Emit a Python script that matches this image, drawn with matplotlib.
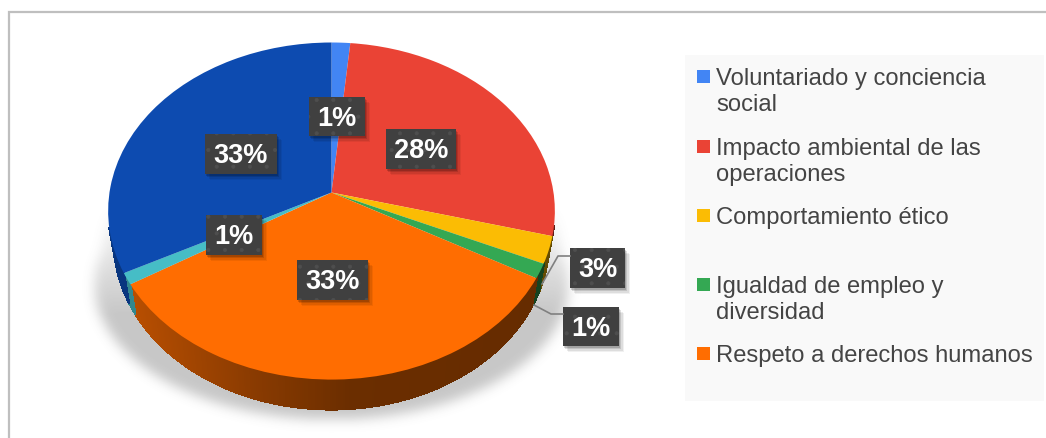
import numpy as np
import matplotlib
matplotlib.use("Agg")
import matplotlib.pyplot as plt
from matplotlib.patches import Rectangle
from matplotlib.transforms import Transform
from matplotlib.path import Path

plt.rcParams['font.family'] = ['Liberation Sans', 'DejaVu Sans']
plt.rcParams['hatch.linewidth'] = 0.5

# ---- data
categories = ["Voluntariado y conciencia\nsocial", "Impacto ambiental de las\noperaciones",
              "Comportamiento ético", "Igualdad de empleo y\ndiversidad",
              "Respeto a derechos humanos", "Otros temas", "Otros asuntos"]
values = [1.5, 27.6, 2.6, 1.4, 33.2, 1.1, 32.6]
pct_labels = ["1%", "28%", "3%", "1%", "33%", "1%", "33%"]
colors = ["#4285F4", "#EA4335", "#FBBC04", "#34A853", "#FF6D01", "#46BDC6", "#0D4BB0"]
legend_count = 5

W, H = 1046, 439
CX, CY, A, B, K = 331.5, 193.5, 222.0, 166.5, 0.11
DEPTH, SHRINK = 30.0, 0.975


class Persp(Transform):
    input_dims = output_dims = 2
    is_separable = False
    has_inverse = False

    def transform_non_affine(self, xy):
        xy = np.asarray(xy, float)
        d = 1 + K * xy[:, 1]
        return np.column_stack([CX + A * xy[:, 0] / d, CY - B * xy[:, 1] / d])

    def transform_path_non_affine(self, path):
        return Path(self.transform_non_affine(path.vertices), path.codes)


fig = plt.figure(figsize=(W / 100, H / 100), dpi=100, facecolor="white")


def px_axes(z):
    ax = fig.add_axes([0, 0, 1, 1], zorder=z)
    ax.set_xlim(0, W)
    ax.set_ylim(H, 0)
    ax.axis("off")
    ax.patch.set_alpha(0)
    return ax


ax_bg = px_axes(0)
ax_pie = fig.add_axes([0, 0, 1, 1], zorder=1)
ax_top = px_axes(2)

# frame
ax_bg.plot([9, 9, W], [H, 12.5, 12.5], color="#bfbfbf", lw=1.6, solid_joinstyle="miter")

# legend background
ax_bg.add_patch(Rectangle((685, 56), 359, 346, fc="#f9f9f9", ec="none"))

# soft shadow
yy, xx = np.mgrid[0:H, 0:W]
mask = (((xx - 331) / 237.0) ** 2 + ((yy - 285) / 135.0) ** 2 <= 1)
mask |= (yy > 205) & (yy < 300) & (np.abs(xx - 331) < 223 + (yy - 205) * 13 / 95)
sigma = 6.0
r = np.arange(-18, 19)
g = np.exp(-r ** 2 / (2 * sigma ** 2))
g /= g.sum()
blur = np.apply_along_axis(lambda v: np.convolve(v, g, mode="same"), 0, mask.astype(float))
blur = np.apply_along_axis(lambda v: np.convolve(v, g, mode="same"), 1, blur)
ramp = np.clip((yy - 205) / 110.0, 0, 1)
rgba = np.zeros((H, W, 4))
rgba[..., :3] = 0.35
rgba[..., 3] = blur * ramp * 0.34
ax_bg.imshow(rgba, extent=(0, W, H, 0), zorder=0.5, aspect="auto", interpolation="bilinear")
ax_bg.set_xlim(0, W)
ax_bg.set_ylim(H, 0)

# pie top surface
persp = Persp()
wedges, _ = ax_pie.pie(values, colors=colors, startangle=90, counterclock=False, radius=1)
ax_pie.axis("off")
ax_pie.patch.set_alpha(0)
for w in wedges:
    w.set_transform(persp + ax_bg.transData)
    w.set_clip_on(False)
    w.set_linewidth(0)

# pie side wall, segment by segment (only the near half can show)
for w in wedges:
    base = np.array(matplotlib.colors.to_rgb(w.get_facecolor()))
    t = np.radians(np.arange(w.theta1, w.theta2 + 0.5, 0.5))
    t = np.append(t, np.radians(w.theta2))
    top = persp.transform(np.column_stack([np.cos(t), np.sin(t)]))
    low = np.column_stack([CX + (top[:, 0] - CX) * SHRINK, top[:, 1] + DEPTH])
    for i in range(len(t) - 1):
        if np.sin(t[i]) > -0.2:
            continue
        shade = np.interp(top[i, 0], [132, 260, 350, 540], [0.72, 0.53, 0.42, 0.40])
        poly = np.vstack([top[i], top[i + 1], low[i + 1], low[i]])
        ax_bg.fill(poly[:, 0], poly[:, 1], fc=base * shade, ec=base * shade, lw=0.7,
                   antialiased=False, zorder=2)

# percentage labels (boxes in pixel layout)
boxes = [(309, 98, 56, 39), (386, 130, 70, 40), (570, 249, 55, 40), (563, 308, 56, 39),
         (297, 261, 71, 40), (206, 216, 56, 40), (205, 135, 72, 40)]
for (x, y, w, h), lab in zip(boxes, pct_labels):
    for off, al in ((6, 0.06), (4.5, 0.08), (3, 0.12), (1.5, 0.16)):
        ax_top.add_patch(Rectangle((x + off - 1, y + off), w, h, fc="black", ec="none", alpha=al))
    ax_top.add_patch(Rectangle((x, y), w, h, fc="#404040", ec="none"))
    ax_top.add_patch(Rectangle((x, y), w, h, fc="none", ec="#4e4e4e", lw=0, hatch="."))
    ax_top.text(x + w / 2, y + h / 2 + 1.5, lab, color="white", fontsize=19.5, fontweight="bold",
                ha="center", va="center")

# leader lines
ax_top.plot([542, 558, 570], [285, 257, 257], color="#808080", lw=1.2)
ax_top.plot([534, 551, 563], [306, 315, 315], color="#808080", lw=1.2)

# legend
marker_y = [77.5, 147.5, 216.5, 285.5, 354.5]
for cat, col, y in zip(categories[:legend_count], colors[:legend_count], marker_y):
    ax_top.add_patch(Rectangle((697, y - 6.5), 13, 13, fc=col, ec="none"))
    ax_top.text(716, y - 9, cat, color="#444444", fontsize=17.1, ha="left", va="top", linespacing=1.22)

fig.savefig("out.png", dpi=100)
